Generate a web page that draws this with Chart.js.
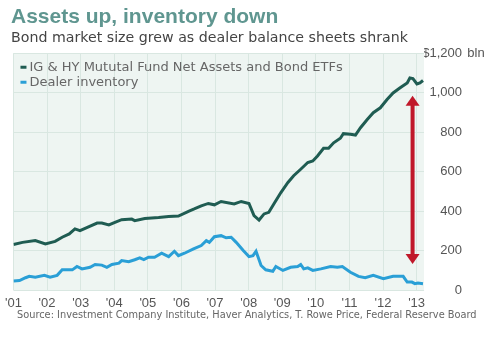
<!DOCTYPE html>
<html>
<head>
<meta charset="utf-8">
<script src="https://cdn.jsdelivr.net/npm/chart.js@4.4.1/dist/chart.umd.min.js"></script>
<style>
  html, body { margin: 0; padding: 0; background: #fff; }
  #wrap { width: 484px; height: 339px; }
</style>
</head>
<body>
<div id="wrap"><canvas id="AssetsChart"></canvas></div>
<script>
// values in $ bln, x as fractional year
const igYears = [2001.0, 2001.27, 2001.65, 2001.95, 2002.24, 2002.45, 2002.66, 2002.83, 2002.98, 2003.25,
    2003.49, 2003.63, 2003.84, 2004.02, 2004.22, 2004.52, 2004.61, 2004.91, 2005.32, 2005.62,
    2005.91, 2006.21, 2006.38, 2006.59, 2006.80, 2006.98, 2007.18, 2007.57, 2007.78, 2008.01,
    2008.16, 2008.31, 2008.46, 2008.60, 2008.75, 2008.96, 2009.17, 2009.34, 2009.55, 2009.76,
    2009.91, 2010.05, 2010.23, 2010.38, 2010.53, 2010.73, 2010.82, 2011.03, 2011.18, 2011.33,
    2011.53, 2011.71, 2011.92, 2012.12, 2012.30, 2012.51, 2012.72, 2012.80, 2012.89, 2013.01,
    2013.10, 2013.19];
const igValues = [232, 243, 252, 235, 248, 269, 286, 311, 302, 323,
    341, 341, 331, 344, 358, 361, 353, 364, 369, 374,
    376, 400, 412, 428, 440, 433, 450, 437, 450, 440,
    378, 356, 387, 395, 437, 495, 546, 580, 613, 647,
    655, 680, 719, 719, 747, 770, 793, 790, 786, 823,
    865, 899, 924, 966, 999, 1025, 1050, 1075, 1072, 1045,
    1050, 1062];

const dealerYears = [2001.0, 2001.18, 2001.36, 2001.47, 2001.65, 2001.92, 2002.09, 2002.30, 2002.45, 2002.75,
    2002.89, 2003.04, 2003.28, 2003.43, 2003.63, 2003.78, 2003.93, 2004.14, 2004.22, 2004.43,
    2004.61, 2004.76, 2004.88, 2005.02, 2005.20, 2005.41, 2005.62, 2005.79, 2005.91, 2006.09,
    2006.36, 2006.59, 2006.74, 2006.83, 2006.98, 2007.18, 2007.33, 2007.48, 2007.63, 2007.84,
    2008.01, 2008.13, 2008.22, 2008.37, 2008.51, 2008.72, 2008.81, 2009.02, 2009.25, 2009.46,
    2009.55, 2009.64, 2009.76, 2009.91, 2010.15, 2010.44, 2010.64, 2010.79, 2011.03, 2011.27,
    2011.47, 2011.71, 2012.01, 2012.30, 2012.60, 2012.72, 2012.86, 2012.95, 2013.04, 2013.19];
const dealerValues = [47, 50, 64, 71, 67, 76, 67, 76, 104, 104,
    121, 109, 117, 131, 128, 117, 131, 138, 151, 145,
    155, 165, 156, 168, 168, 188, 171, 198, 176, 188,
    210, 227, 252, 243, 272, 277, 266, 269, 243, 202,
    171, 176, 198, 126, 104, 97, 121, 101, 117, 121,
    131, 109, 114, 101, 109, 121, 117, 121, 92, 71,
    64, 76, 59, 71, 71, 42, 42, 34, 37, 34];

const seriesNames = ['IG & HY Mututal Fund Net Assets and Bond ETFs', 'Dealer inventory'];
const seriesColors = ['#1f5c52', '#2a9fd6'];
const yTicks = [0, 200, 400, 600, 800, 1000, 1200];
const xTicks = [2001, 2002, 2003, 2004, 2005, 2006, 2007, 2008, 2009, 2010, 2011, 2012, 2013];
const xRange = [2001, 2013.22];
// red double arrow, in data units
const arrowAt = { x: 2012.88, from: 985, to: 133 };
const sourceNote = 'Source: Investment Company Institute, Haver Analytics, T. Rowe Price, Federal Reserve Board';

const narrow = "'Liberation Sans', Arial, sans-serif";
const wide = "'DejaVu Sans', Verdana, sans-serif";

function zip(xs, ys) {
    return xs.map((x, i) => ({ x: x, y: ys[i] }));
}

const extras = {
    id: 'extras',
    beforeDraw(chart) {
        const { ctx, chartArea: a } = chart;
        ctx.save();
        ctx.fillStyle = '#eef5f2';
        ctx.fillRect(a.left, a.top, a.right - a.left, a.bottom - a.top);
        ctx.restore();
    },
    afterDraw(chart) {
        const { ctx, chartArea: a, scales } = chart;
        const x = scales.x, y = scales.y;
        ctx.save();

        // legend inside plot
        ctx.font = '13px ' + wide;
        ctx.textBaseline = 'middle';
        seriesNames.forEach((name, i) => {
            const ly = a.top + 14 + i * 15;
            ctx.fillStyle = seriesColors[i];
            ctx.fillRect(a.left + 7, ly - 1.5, 6, 3);
            ctx.fillStyle = '#666';
            ctx.fillText(name, a.left + 16, ly);
        });

        // arrow
        const ax = x.getPixelForValue(arrowAt.x);
        const top = y.getPixelForValue(arrowAt.from);
        const bot = y.getPixelForValue(arrowAt.to);
        ctx.fillStyle = '#c0182a';
        ctx.fillRect(ax - 2, top + 8, 4, bot - top - 16);
        ctx.beginPath();
        ctx.moveTo(ax, top);
        ctx.lineTo(ax + 7, top + 10);
        ctx.lineTo(ax - 7, top + 10);
        ctx.closePath();
        ctx.fill();
        ctx.beginPath();
        ctx.moveTo(ax, bot);
        ctx.lineTo(ax + 7, bot - 10);
        ctx.lineTo(ax - 7, bot - 10);
        ctx.closePath();
        ctx.fill();

        // unit after top tick
        ctx.fillStyle = '#555';
        ctx.font = '13px ' + narrow;
        ctx.textAlign = 'left';
        ctx.fillText(' bln', y.left + y.options.ticks.padding + ctx.measureText('$1,200').width, y.getPixelForValue(1200));

        // source
        ctx.font = '9.8px ' + wide;
        ctx.fillStyle = '#666';
        ctx.fillText(sourceNote, 17, 315);
        ctx.restore();
    }
};

const ctx = document.getElementById('AssetsChart');
new Chart(ctx, {
    type: 'line',
    data: {
        datasets: [{
            label: seriesNames[0],
            data: zip(igYears, igValues),
            borderColor: seriesColors[0],
            borderWidth: 3,
            pointRadius: 0,
            tension: 0
        }, {
            label: seriesNames[1],
            data: zip(dealerYears, dealerValues),
            borderColor: seriesColors[1],
            borderWidth: 3,
            pointRadius: 0,
            tension: 0
        }]
    },
    options: {
        responsive: true,
        maintainAspectRatio: false,
        animation: false,
        layout: {
            padding: { left: 11, right: 22, top: 0, bottom: 23 }
        },
        plugins: {
            legend: { display: false },
            tooltip: { enabled: false },
            title: {
                display: true,
                text: 'Assets up, inventory down',
                align: 'start',
                color: '#5f9690',
                font: { family: narrow, size: 21, weight: 'bold' },
                padding: { top: 5, bottom: 0 }
            },
            subtitle: {
                display: true,
                text: 'Bond market size grew as dealer balance sheets shrank',
                align: 'start',
                color: '#444',
                font: { family: wide, size: 14.2 },
                padding: { top: 0, bottom: 6 }
            }
        },
        scales: {
            x: {
                type: 'linear',
                min: xRange[0],
                max: xRange[1],
                afterBuildTicks: (scale) => { scale.ticks = xTicks.map(v => ({ value: v })); },
                grid: { color: '#d9e7e1', drawTicks: false },
                border: { display: false },
                ticks: {
                    autoSkip: false,
                    maxRotation: 0,
                    padding: 5,
                    color: '#555',
                    font: { family: narrow, size: 13 },
                    callback: (v) => "'" + String(v).slice(2)
                }
            },
            y: {
                position: 'right',
                min: 0,
                max: 1200,
                afterBuildTicks: (scale) => { scale.ticks = yTicks.map(v => ({ value: v })); },
                afterFit: (scale) => { scale.width = 38; },
                grid: { color: '#d9e7e1', drawTicks: false },
                border: { display: false },
                ticks: {
                    padding: 0,
                    crossAlign: 'far',
                    color: '#555',
                    font: { family: narrow, size: 13 },
                    callback: (v) => v === 1200 ? '$1,200' : v.toLocaleString('en-US')
                }
            }
        }
    },
    plugins: [extras]
});
</script>
</body>
</html>
